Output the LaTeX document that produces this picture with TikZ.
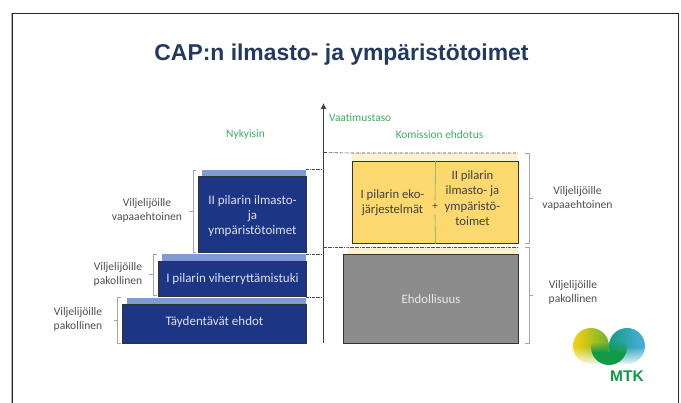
\documentclass[tikz,border=0pt]{standalone}
\usepackage{fontspec}
\setmainfont{Carlito}
\newfontfamily\titlefont{Liberation Sans}
\usetikzlibrary{arrows.meta,fadings}
\definecolor{navydark}{HTML}{1C3585}
\definecolor{lightblue}{HTML}{7E9BD6}
\definecolor{gold}{HTML}{FBD96F}
\definecolor{cream}{HTML}{FDF1CF}
\definecolor{greybox}{HTML}{8C8C8C}
\definecolor{titlecol}{HTML}{233A60}
\definecolor{greentxt}{HTML}{3FAE5F}
\definecolor{labelcol}{HTML}{505050}
\definecolor{mtkgreen}{HTML}{119A45}
\definecolor{mtkyellow}{HTML}{F8D210}
\definecolor{mtkblue}{HTML}{1E9BD8}
\tikzset{
  x=1pt,y=-1pt,
  bluebox/.style={draw=black!80,line width=1pt,fill=navydark,text=white!85!navydark,align=center,font=\fontsize{13}{15}\selectfont,inner sep=0pt},
  strip/.style={fill=lightblue,draw=none,inner sep=0pt},
  creamstrip/.style={fill=cream,draw=none,inner sep=0pt},
  goldbox/.style={draw=black!80,line width=1pt,fill=gold},
  greyrect/.style={draw=black!80,line width=1pt,fill=greybox,text=white!80!greybox,font=\fontsize{12.8}{14}\selectfont,inner sep=0pt},
  sidelabel/.style={text=labelcol,align=center,font=\fontsize{11.6}{14}\selectfont,inner sep=0pt},
  heading/.style={text=greentxt,font=\fontsize{11.4}{13}\selectfont,inner sep=0pt},
  goldtext/.style={text=black!75,align=center,font=\fontsize{12.7}{15.5}\selectfont,inner sep=0pt},
  level/.style={densely dashdotted,line width=.6pt,black!70},
  bracket/.style={draw=black!35,line width=.8pt},
}
\begin{document}
\begin{tikzpicture}
\useasboundingbox (0,0) rectangle (681,403);
\fill[white] (0,0) rectangle (681,403);
\draw[black!85,line width=.9pt] (12,403) -- (12,13) -- (678,13) -- (678,403);
\draw[black!30,line width=.6pt] (11,403) -- (11,13);
\node[text=titlecol,font=\titlefont\bfseries\fontsize{22.9}{24}\selectfont,inner sep=0pt] (title) at (341.5,55) {CAP:n ilmasto- ja ympäristötoimet};
% axis
\coordinate (axb) at (323.5,343);
\coordinate (axt) at (323.5,103);
\draw[-{Latex[length=6pt,width=6pt]},black!75,line width=1pt] (axb) -- (axt);
\node[heading,anchor=west] (vaat) at (329,118) {Vaatimustaso};
\node[heading] (nyk) at (245.5,134.5) {Nykyisin};
\node[heading] (kom) at (439.5,134.5) {Komission ehdotus};
% left strips
\node[strip,minimum width=104pt,minimum height=6.5pt,anchor=north west] (s3) at (202,169.5) {};
\node[strip,minimum width=144pt,minimum height=7pt,anchor=north west] (s2) at (162,254) {};
\node[strip,minimum width=179pt,minimum height=7pt,anchor=north west] (s1) at (127,297.5) {};
% left boxes
\node[bluebox,minimum width=108pt,minimum height=76pt,anchor=north west] (b3) at (198,176) {\rule{0pt}{13pt}II pilarin ilmasto-\\ja\\ympäristötoimet};
\node[bluebox,minimum width=148pt,minimum height=35pt,anchor=north west] (b2) at (158,261) {I pilarin viherryttämistuki};
\node[bluebox,minimum width=184pt,minimum height=39pt,anchor=north west,text depth=7pt] (b1) at (122,304) {Täydentävät ehdot};
% right strips
\node[creamstrip,minimum width=166pt,minimum height=8pt,anchor=north west] (s4) at (352,153) {};
\node[creamstrip,minimum width=170pt,minimum height=7pt,anchor=north west] (s5) at (348,247) {};
% right boxes
\node[goldbox,minimum width=166pt,minimum height=82pt,anchor=north west,inner sep=0pt] (g) at (352,161) {};
\node[greyrect,minimum width=175pt,minimum height=89pt,anchor=north west] (e) at (343,254) {Ehdollisuus};
\draw[greentxt!80!gold,line width=.6pt] (g.north) -- (435,200);
\draw[greentxt!80!gold,line width=.6pt] (435,215) -- (g.south);
\node[goldtext] (t1) at (392.5,202.5) {I pilarin eko-\\järjestelmät};
\node[goldtext] (t2) at (472.5,198) {II pilarin\\ilmasto- ja\\ympäristö-\\toimet};
\node[text=black!75,font=\fontsize{11}{12}\selectfont,inner sep=0pt] (plus) at (435,206) {+};
% dashed levels
\draw[level] (s3.north east) -- (323,169.5);
\draw[level] (s2.north east) -- (323,254);
\draw[level] (s1.north east) -- (323,297.5);
\draw[level] (324,152.5) -- (s4.north west) -- (s4.north east);
\draw[level] (324,247) -- (s5.north west) -- (s5.north east);
% brackets
\draw[bracket] (196,170) -- (193,170) -- (193,252) -- (196,252) (193,211) -- (189,211);
\draw[bracket] (157,254) -- (153,254) -- (153,295) -- (157,295) (153,274) -- (149,274);
\draw[bracket] (121,297) -- (117.5,297) -- (117.5,343) -- (121,343) (117.5,320) -- (114,320);
\draw[bracket] (525,153) -- (529,153) -- (529,243) -- (525,243) (529,198) -- (533,198);
\draw[bracket] (525,247) -- (529,247) -- (529,343) -- (525,343) (529,295) -- (533,295);
% side labels
\node[sidelabel] (l3) at (147,210) {Viljelijöille\\vapaaehtoinen};
\node[sidelabel] (l2) at (118,274) {Viljelijöille\\pakollinen};
\node[sidelabel] (l1) at (78,319) {Viljelijöille\\pakollinen};
\node[sidelabel] (r1) at (577.5,198) {Viljelijöille\\vapaaehtoinen};
\node[sidelabel] (r2) at (573,292) {Viljelijöille\\pakollinen};
% logo
\shade[left color=mtkyellow,middle color=mtkyellow,right color=mtkgreen!60!mtkyellow] (591,346) circle (18);
\shade[left color=mtkgreen!60!mtkblue,middle color=mtkblue,right color=mtkblue!80] (627,346) circle (18);
\fill[white,path fading=north] (571,347) rectangle (600,366);
\fill[white,path fading=north] (618,347) rectangle (647,366);
\begin{scope}
\clip (609,347) circle (18);
\fill[mtkgreen,path fading=north] (590,342) rectangle (628,352);
\fill[mtkgreen] (590,352) rectangle (628,366);
\end{scope}
\node[text=mtkgreen,font=\titlefont\bfseries\fontsize{15.5}{16}\selectfont,inner sep=0pt] (mtk) at (627,376.5) {MTK};
\end{tikzpicture}
\end{document}
